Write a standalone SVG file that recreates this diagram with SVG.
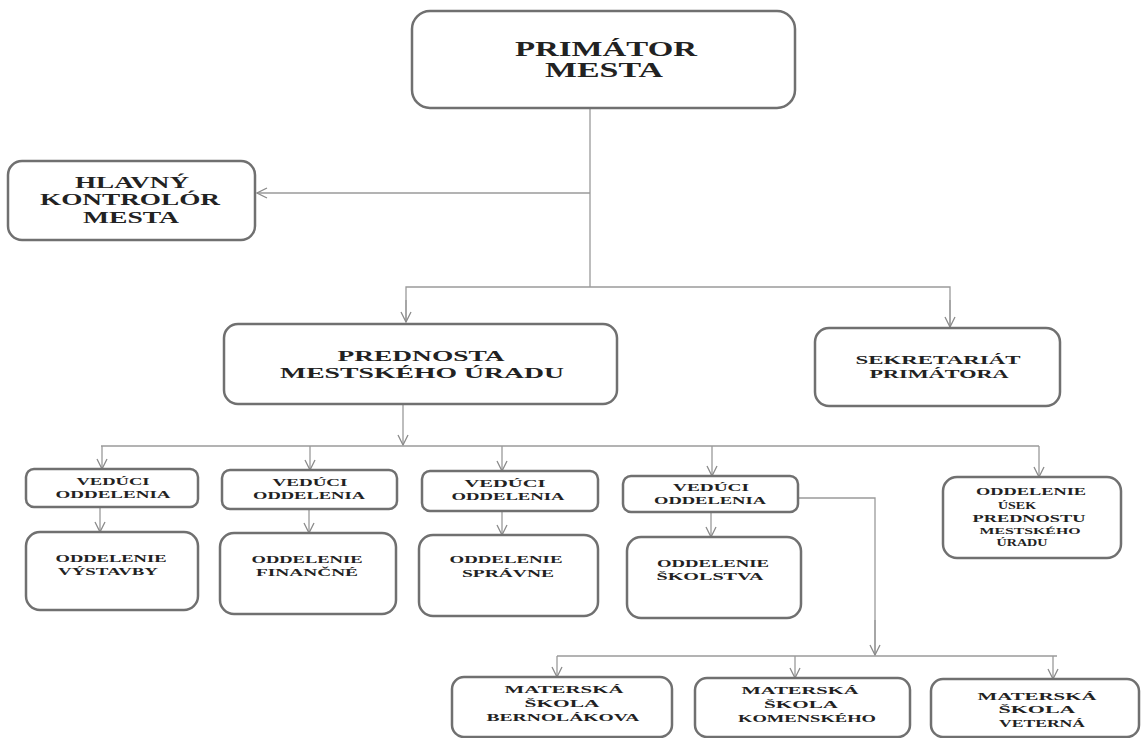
<svg xmlns="http://www.w3.org/2000/svg" width="1142" height="738" viewBox="0 0 1142 738">
<style>
.box{fill:#fff;stroke:#707070;stroke-width:2.5}
.t{font-family:"Liberation Serif","Times New Roman",serif;font-weight:bold;fill:#222;text-anchor:middle}
.c{fill:none;stroke:#9a9a9a;stroke-width:1.3}
</style>
<defs>
<marker id="ah" viewBox="0 0 12 12" refX="11" refY="6" markerWidth="12" markerHeight="12" markerUnits="userSpaceOnUse" orient="auto">
<path d="M1,1 L11,6 L1,11" fill="none" stroke="#8a8a8a" stroke-width="1.3"/>
</marker>
</defs>
<rect width="1142" height="738" fill="#fff"/>
<g id="connectors">
<line class="c" x1="590" y1="108" x2="590" y2="287"/>
<line class="c" x1="590" y1="193" x2="257" y2="193" marker-end="url(#ah)"/>
<polyline class="c" points="406,322 406,287 950,287 950,327"/>
<line class="c" x1="406" y1="300" x2="406" y2="322" marker-end="url(#ah)"/>
<line class="c" x1="950" y1="300" x2="950" y2="327" marker-end="url(#ah)"/>
<line class="c" x1="403" y1="404" x2="403" y2="445" marker-end="url(#ah)"/>
<line class="c" x1="101" y1="446" x2="1039" y2="446"/>
<line class="c" x1="102" y1="446" x2="102" y2="469" marker-end="url(#ah)"/>
<line class="c" x1="310" y1="446" x2="310" y2="470" marker-end="url(#ah)"/>
<line class="c" x1="502" y1="446" x2="502" y2="471" marker-end="url(#ah)"/>
<line class="c" x1="712" y1="446" x2="712" y2="476" marker-end="url(#ah)"/>
<line class="c" x1="1039" y1="446" x2="1039" y2="477" marker-end="url(#ah)"/>
<line class="c" x1="100" y1="507" x2="100" y2="532" marker-end="url(#ah)"/>
<line class="c" x1="309" y1="509" x2="309" y2="533" marker-end="url(#ah)"/>
<line class="c" x1="502" y1="511" x2="502" y2="535" marker-end="url(#ah)"/>
<line class="c" x1="711" y1="512" x2="711" y2="537" marker-end="url(#ah)"/>
<polyline class="c" points="798,498 875,498 875,655"/>
<line class="c" x1="875" y1="620" x2="875" y2="655" marker-end="url(#ah)"/>
<line class="c" x1="557" y1="656" x2="1057" y2="656"/>
<line class="c" x1="557" y1="656" x2="557" y2="677" marker-end="url(#ah)"/>
<line class="c" x1="795" y1="656" x2="795" y2="678" marker-end="url(#ah)"/>
<line class="c" x1="1053" y1="656" x2="1053" y2="679" marker-end="url(#ah)"/>
</g>
<g id="primator">
<rect class="box" x="412" y="11" width="383" height="97" rx="18"/>
<text class="t" x="606" y="56" font-size="20" textLength="182" lengthAdjust="spacingAndGlyphs">PRIMÁTOR</text>
<text class="t" x="604" y="77" font-size="20" textLength="118" lengthAdjust="spacingAndGlyphs">MESTA</text>
</g>
<g id="kontrolor">
<rect class="box" x="8" y="161" width="247" height="79" rx="14"/>
<text class="t" x="132" y="188" font-size="16" textLength="114" lengthAdjust="spacingAndGlyphs">HLAVNÝ</text>
<text class="t" x="130" y="205" font-size="16" textLength="180" lengthAdjust="spacingAndGlyphs">KONTROLÓR</text>
<text class="t" x="131" y="223" font-size="16" textLength="96" lengthAdjust="spacingAndGlyphs">MESTA</text>
</g>
<g id="prednosta">
<rect class="box" x="224" y="324" width="393" height="80" rx="14"/>
<text class="t" x="421" y="361" font-size="15" textLength="167" lengthAdjust="spacingAndGlyphs">PREDNOSTA</text>
<text class="t" x="422" y="378" font-size="15" textLength="284" lengthAdjust="spacingAndGlyphs">MESTSKÉHO ÚRADU</text>
</g>
<g id="sekretariat">
<rect class="box" x="815" y="328" width="245" height="78" rx="14"/>
<text class="t" x="938" y="364" font-size="13" textLength="165" lengthAdjust="spacingAndGlyphs">SEKRETARIÁT</text>
<text class="t" x="939" y="378" font-size="13" textLength="139" lengthAdjust="spacingAndGlyphs">PRIMÁTORA</text>
</g>
<g id="veduci1">
<rect class="box" x="26" y="469" width="172" height="38" rx="8"/>
<text class="t" x="113" y="485" font-size="10" textLength="73" lengthAdjust="spacingAndGlyphs">VEDÚCI</text>
<text class="t" x="113" y="498" font-size="10" textLength="115" lengthAdjust="spacingAndGlyphs">ODDELENIA</text>
</g>
<g id="veduci2">
<rect class="box" x="222" y="470" width="175" height="39" rx="8"/>
<text class="t" x="310" y="486" font-size="10" textLength="75" lengthAdjust="spacingAndGlyphs">VEDÚCI</text>
<text class="t" x="309" y="499" font-size="10" textLength="112" lengthAdjust="spacingAndGlyphs">ODDELENIA</text>
</g>
<g id="veduci3">
<rect class="box" x="422" y="471" width="176" height="40" rx="8"/>
<text class="t" x="505" y="487" font-size="10" textLength="81" lengthAdjust="spacingAndGlyphs">VEDÚCI</text>
<text class="t" x="508" y="500" font-size="10" textLength="113" lengthAdjust="spacingAndGlyphs">ODDELENIA</text>
</g>
<g id="veduci4">
<rect class="box" x="623" y="476" width="175" height="36" rx="8"/>
<text class="t" x="711" y="491" font-size="10" textLength="76" lengthAdjust="spacingAndGlyphs">VEDÚCI</text>
<text class="t" x="710" y="504" font-size="10" textLength="112" lengthAdjust="spacingAndGlyphs">ODDELENIA</text>
</g>
<g id="vystavby">
<rect class="box" x="26" y="532" width="172" height="78" rx="14"/>
<text class="t" x="111" y="562" font-size="10" textLength="111" lengthAdjust="spacingAndGlyphs">ODDELENIE</text>
<text class="t" x="108" y="575" font-size="10" textLength="100" lengthAdjust="spacingAndGlyphs">VÝSTAVBY</text>
</g>
<g id="financne">
<rect class="box" x="220" y="533" width="176" height="81" rx="14"/>
<text class="t" x="307" y="563" font-size="10" textLength="111" lengthAdjust="spacingAndGlyphs">ODDELENIE</text>
<text class="t" x="307" y="576" font-size="10" textLength="102" lengthAdjust="spacingAndGlyphs">FINANČNÉ</text>
</g>
<g id="spravne">
<rect class="box" x="419" y="535" width="179" height="81" rx="14"/>
<text class="t" x="506" y="563" font-size="10" textLength="113" lengthAdjust="spacingAndGlyphs">ODDELENIE</text>
<text class="t" x="508" y="577" font-size="10" textLength="92" lengthAdjust="spacingAndGlyphs">SPRÁVNE</text>
</g>
<g id="skolstva">
<rect class="box" x="627" y="537" width="174" height="81" rx="14"/>
<text class="t" x="713" y="567" font-size="10" textLength="112" lengthAdjust="spacingAndGlyphs">ODDELENIE</text>
<text class="t" x="710" y="580" font-size="10" textLength="107" lengthAdjust="spacingAndGlyphs">ŠKOLSTVA</text>
</g>
<g id="usek">
<rect class="box" x="943" y="477" width="178" height="81" rx="14"/>
<text class="t" x="1031" y="495" font-size="10" textLength="110" lengthAdjust="spacingAndGlyphs">ODDELENIE</text>
<text class="t" x="1017" y="509" font-size="10" textLength="38" lengthAdjust="spacingAndGlyphs">ÚSEK</text>
<text class="t" x="1029" y="522" font-size="10" textLength="113" lengthAdjust="spacingAndGlyphs">PREDNOSTU</text>
<text class="t" x="1030" y="534" font-size="9" textLength="101" lengthAdjust="spacingAndGlyphs">MESTSKÉHO</text>
<text class="t" x="1022" y="546" font-size="10" textLength="51" lengthAdjust="spacingAndGlyphs">ÚRADU</text>
</g>
<g id="ms-bernolakova">
<rect class="box" x="452" y="677" width="220" height="60" rx="12"/>
<text class="t" x="564" y="693" font-size="11" textLength="119" lengthAdjust="spacingAndGlyphs">MATERSKÁ</text>
<text class="t" x="562" y="707" font-size="11" textLength="75" lengthAdjust="spacingAndGlyphs">ŠKOLA</text>
<text class="t" x="563" y="721" font-size="11" textLength="153" lengthAdjust="spacingAndGlyphs">BERNOLÁKOVA</text>
</g>
<g id="ms-komenskeho">
<rect class="box" x="695" y="678" width="215" height="59" rx="12"/>
<text class="t" x="800" y="694" font-size="11" textLength="117" lengthAdjust="spacingAndGlyphs">MATERSKÁ</text>
<text class="t" x="801" y="708" font-size="11" textLength="74" lengthAdjust="spacingAndGlyphs">ŠKOLA</text>
<text class="t" x="807" y="722" font-size="11" textLength="138" lengthAdjust="spacingAndGlyphs">KOMENSKÉHO</text>
</g>
<g id="ms-veterna">
<rect class="box" x="931" y="679" width="208" height="58" rx="12"/>
<text class="t" x="1037" y="700" font-size="11" textLength="119" lengthAdjust="spacingAndGlyphs">MATERSKÁ</text>
<text class="t" x="1037" y="713" font-size="11" textLength="77" lengthAdjust="spacingAndGlyphs">ŠKOLA</text>
<text class="t" x="1042" y="727" font-size="11" textLength="86" lengthAdjust="spacingAndGlyphs">VETERNÁ</text>
</g>
</svg>
